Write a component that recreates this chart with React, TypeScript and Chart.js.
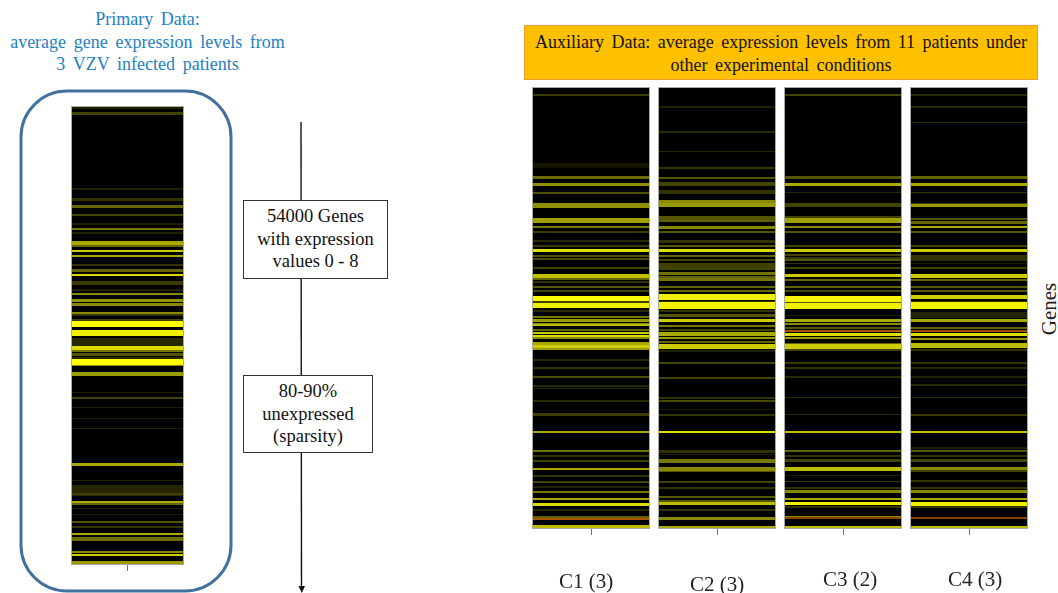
import React, { useEffect, useRef } from "react";
import { Chart, registerables } from "chart.js";

Chart.register(...registerables);

// Each band is [gene row (centre), rows covered, expression level 0-8].
const primaryBands = [
  [6,5,1],[23,5,2.1],[250,4,1],[280,6,1.6],[301,6,3.2],[326,4,2.1],[353,4,1],[368,4,3.7],[380,3,1],
  [411,8,5.3],[420,6,3.2],[435,5,6.4],[451,4,5.3],[478,3,1.6],[493,6,3.2],[507,6,6.9],[530,10,1.8],
  [553,4,1],[563,4,4.3],[584,6,4.6],[596,7,4.2],[620,4,4.3],[628,4,1.6],[641,4,2.1],[654,14,8],[676,8,7.5],
  [681,14,7.5],[708,20,1.3],[726,8,6.9],[735,3,3.7],[745,8,2.7],[755,3,1.3],[768,14,8],[778,4,4.3],
  [803,10,4.8],[859,2,1],[877,3,2.1],[905,2,1],[938,2,1],[967,2,1],[1075,5,5.3],[1123,2,1],
  [1153,30,1.2],[1163,4,2.1],[1188,5,5.3],[1195,4,3.2],[1208,2,1],[1226,2,1],[1248,4,2.7],[1263,2,1.6],
  [1285,4,5.3],[1298,10,3.4],[1338,5,4.3],[1348,4,6.4],[1370,6,4.8],
];
const c1Bands = [
  [24,3,1.8],[236,14,0.7],[272,6,3.4],[292,6,4.5],[317,4,2.5],[355,12,4.5],[401,14,5],[420,5,3.9],[436,3,1.8],
  [463,4,1.3],[476,4,1.8],[490,8,7],[506,3,2.5],[516,6,2.3],[543,3,2.1],[566,10,6],[576,5,3.2],[586,4,1.6],
  [600,4,2.7],[613,3,2.1],[635,14,7.8],[646,6,2.1],[656,14,7.5],[672,3,1.3],[691,3,3.7],[701,6,4.8],[710,3,4.3],
  [715,3,5.9],[728,4,3.2],[738,4,6.4],[746,3,6.9],[754,3,4.3],[770,6,5.3],[778,6,6.4],[786,3,4.8],[820,3,1.3],
  [844,3,1.6],[870,6,2.3],[896,4,1.3],[904,2,1.3],[943,3,1.3],[982,5,1.9],[1035,5,5.3],[1091,4,3.5],[1108,3,1.6],
  [1121,4,2.1],[1146,6,5.3],[1166,3,1.6],[1186,3,2.1],[1200,2,1.1],[1214,4,3.7],[1236,5,5.3],[1252,8,6.9],
  [1268,3,1.3],[1292,8,3],[1320,10,5.9],
];
const c2Bands = [
  [60,2,1],[135,2,1.3],[194,2,1.3],[242,3,1.6],[273,6,2.7],[291,8,2.1],[311,4,1.5],[318,4,1.6],[344,6,4.3],
  [355,10,4.8],[393,8,2.7],[402,4,3],[421,5,4.3],[436,3,2.7],[463,6,1.6],[476,4,2.8],[490,7,6.9],[508,3,3.2],
  [518,3,2.1],[536,16,2],[546,3,2.1],[560,8,3.6],[570,6,3],[578,8,3.6],[600,4,3.2],[613,4,3.2],[630,16,7.5],[646,6,1.6],[655,18,7.6],
  [673,3,1.6],[686,6,2.7],[700,7,6.4],[716,4,3.7],[728,4,2.1],[741,7,5.3],[753,4,4.8],[766,3,3.2],[778,14,6.4],
  [793,4,1],[828,3,2.1],[872,3,2.1],[932,3,1.6],[943,4,2.3],[968,2,1],[984,4,1.6],[1035,4,6.9],[1093,5,1.5],
  [1103,2,1],[1121,10,3.7],[1146,8,4.3],[1153,4,2.7],[1184,4,2.1],[1203,3,1.6],[1230,3,2.7],[1243,3,2.7],
  [1250,8,5.9],[1268,3,1.6],[1294,8,4.3],[1320,5,5.3],
];
const c3Bands = [
  [24,3,2.1],[272,6,2.7],[292,6,5.3],[317,2,1.3],[354,10,2.1],[390,6,2.1],[401,12,5],[420,4,4.3],[436,3,2.7],
  [476,3,2.1],[490,7,6.4],[503,3,2.1],[513,4,1.8],[520,3,2.7],[530,2,1.6],[543,3,2.1],[566,8,6.4],[578,4,3.2],
  [600,5,3.2],[613,3,2.1],[635,16,7.7],[646,4,2.7],[656,16,7.5],[686,2,1],[700,7,5.3],[710,3,4.3],[722,4,2.7],
  [743,8,6.9],[754,4,4.8],[770,3,3.2],[778,12,6.4],[790,3,2.1],[828,2,1.8],[843,2,1.6],[870,2,1.3],[932,2,1.3],
  [982,2,1.3],[1035,4,5.9],[1091,4,3.2],[1106,3,1.6],[1121,6,2.1],[1146,7,5.9],[1166,2,1],[1183,2,1.6],[1203,2,1.6],
  [1214,5,4.3],[1236,5,5.3],[1250,8,7.5],[1260,3,1.6],[1291,8,4.3],[1320,5,5.9],
];
const c4Bands = [
  [24,2,1.3],[60,2,1.3],[107,2,1.3],[272,6,3.2],[292,6,5.3],[317,2,1.6],[350,4,2.1],[356,5,4.8],[396,6,2.7],
  [406,6,3.2],[420,5,5.3],[436,3,2.7],[476,3,2.1],[490,6,6.4],[506,3,1.6],[516,8,1.6],[530,2,1],[543,3,2.1],
  [566,9,6.4],[578,4,3.2],[600,5,2.7],[613,3,2.7],[630,12,6.4],[646,4,1.6],[655,18,7.6],[685,16,1.1],[700,7,5.3],
  [722,4,3.2],[743,8,6.9],[756,3,4.8],[776,12,5.9],[790,3,1.6],[828,2,1.6],[843,2,1.3],[870,2,1],[894,4,1.3],
  [932,2,1.3],[985,4,1.8],[1035,4,5.9],[1083,2,1],[1091,4,2.7],[1106,3,1.6],[1121,5,2.1],[1144,6,4.3],[1153,4,2.1],
  [1183,3,1.6],[1203,2,1.6],[1214,5,4.3],[1236,5,5.3],[1250,10,7.5],[1260,2,1.6],[1293,6,4.3],[1320,5,5.9],
];

// Rows whose colour runs past yellow into orange.
const c1Peaks = [[1296,3,5]];
const c2Peaks: number[][] = [];
const c3Peaks = [[733,3,5],[1293,2,4]];
const c4Peaks = [[733,4,4.5],[1293,2,4]];

const auxiliaryRows = 1326;
const primaryRows = 1377;
const conditionLabels = ["C1 (3)", "C2 (3)", "C3 (2)", "C4 (3)"];

const yellow = (level: number) => {
  const v = Math.round((level / 8) * 255);
  return `rgb(${v},${v},0)`;
};
const orange = (level: number) =>
  `rgb(${Math.round(level * 34)},${Math.round(level * 17)},0)`;

const framePlugin = {
  id: "panelFrame",
  beforeDatasetsDraw(chart: Chart) {
    const { ctx, chartArea: a } = chart;
    ctx.save();
    ctx.fillStyle = "#000";
    ctx.fillRect(a.left, a.top, a.right - a.left, a.bottom - a.top);
    ctx.restore();
  },
  afterDatasetsDraw(chart: Chart) {
    const { ctx, chartArea: a } = chart;
    ctx.save();
    ctx.strokeStyle = "#a8a8a8";
    ctx.lineWidth = 1;
    ctx.strokeRect(a.left + 0.5, a.top + 0.5, a.right - a.left - 1, a.bottom - a.top - 1);
    ctx.restore();
  },
};

type PanelProps = {
  label: string;
  bands: number[][];
  peaks: number[][];
  rows: number;
  left: number;
  top: number;
  width: number;
  plotHeight: number;
  axisHeight: number;
  labelPadding: number;
  labelOffset: number;
};

// A row is a third of a pixel here, so ranges are snapped outward to whole pixels.
const rowRange = (b: number[]) => {
  const from = Math.floor((b[0] - b[1] / 2) / 3) * 3;
  const to = Math.max(from + 3, Math.ceil((b[0] + b[1] / 2) / 3) * 3);
  return [from, to];
};

function HeatPanel(p: PanelProps) {
  const ref = useRef<HTMLCanvasElement>(null);
  useEffect(() => {
    if (!ref.current) return;
    const toDataset = (colour: (n: number) => string) => (b: number[]) => ({
      data: [rowRange(b)],
      backgroundColor: colour(b[2]),
      grouped: false,
      categoryPercentage: 1,
      barPercentage: 1,
      inflateAmount: 0,
      borderWidth: 0,
    });
    // Chart.js paints earlier datasets on top, so peaks and bright rows come first.
    const ordered = [...p.bands].sort((a, b) => b[2] - a[2]);
    const chart = new Chart(ref.current, {
      type: "bar",
      data: {
        labels: [p.label],
        datasets: [...p.peaks.map(toDataset(orange)), ...ordered.map(toDataset(yellow))] as any,
      },
      options: {
        animation: false,
        responsive: false,
        layout: { padding: 0 },
        plugins: { legend: { display: false }, tooltip: { enabled: false }, title: { display: false } },
        scales: {
          x: {
            grid: { display: true, offset: false, drawOnChartArea: false, tickLength: 6, tickColor: "#777", tickWidth: 1 },
            border: { display: false },
            afterFit: (s: any) => {
              s.height = p.axisHeight;
              s.paddingLeft = 0;
              s.paddingRight = 0;
            },
            ticks: {
              color: "#222",
              maxRotation: 0,
              autoSkip: false,
              padding: p.labelPadding,
              labelOffset: p.labelOffset,
              font: { family: "'Liberation Serif'", size: 21 },
            },
          },
          y: { type: "linear", display: false, reverse: true, min: 0, max: p.rows },
        },
      } as any,
      plugins: [framePlugin] as any,
    });
    return () => chart.destroy();
  }, []);
  return (
    <canvas
      ref={ref}
      width={p.width}
      height={p.plotHeight + p.axisHeight}
      style={{ position: "absolute", left: p.left, top: p.top, filter: "blur(0.6px)" }}
    />
  );
}

const serif = "'Liberation Serif', serif";

function Note(props: {
  left: number; top: number; width: number; height?: number; lines: string[]; size?: number;
  color?: string; spacing?: number; lineHeight?: number; style?: React.CSSProperties;
}) {
  return (
    <div
      style={{
        position: "absolute",
        left: props.left,
        top: props.top,
        width: props.width,
        height: props.height,
        boxSizing: "border-box",
        fontFamily: serif,
        fontSize: props.size ?? 18,
        lineHeight: `${props.lineHeight ?? 22.5}px`,
        color: props.color ?? "#111",
        wordSpacing: props.spacing ?? 0,
        textAlign: "center",
        whiteSpace: "nowrap",
        ...props.style,
      }}
    >
      {props.lines.map((l) => <div key={l}>{l}</div>)}
    </div>
  );
}

export default function App() {
  const boxStyle: React.CSSProperties = { background: "#fff", border: "1px solid #333", paddingTop: 4 };
  const auxLefts = [532, 658, 784, 910];
  const auxOffsets = [-5, 0, 7, 6];
  const auxPaddings = [35, 38, 33, 33];
  const auxBands = [c1Bands, c2Bands, c3Bands, c4Bands];
  const auxPeaks = [c1Peaks, c2Peaks, c3Peaks, c4Peaks];
  return (
    <div style={{ position: "absolute", left: 0, top: 0, width: 1058, height: 593, overflow: "hidden", background: "#fff" }}>
      <svg width={1058} height={593} style={{ position: "absolute", left: 0, top: 0 }}>
        <rect x={21} y={91} width={210} height={500} rx={46} ry={46} fill="none" stroke="#41719c" strokeWidth={3} />
        <line x1={301} y1={122} x2={301.5} y2={587} stroke="#111" strokeWidth={1.4} />
        <path d="M298.5 586 L305 586 L301.8 593 Z" fill="#111" />
      </svg>
      <Note left={0} top={8} width={295} lines={["Primary Data:", "average gene expression levels from", "3 VZV infected patients"]} color="#1f7fc6" spacing={3.2} />
      <Note left={243} top={200} width={145} height={79} size={18.5} lines={["54000 Genes", "with expression", "values 0 - 8"]} style={boxStyle} />
      <Note left={243} top={375} width={130} height={78} size={18.5} lines={["80-90%", "unexpressed", "(sparsity)"]} style={boxStyle} />
      <Note left={524} top={25} width={514} height={55} lines={["Auxiliary Data: average expression levels from 11 patients under", "other experimental conditions"]} spacing={3} style={{ background: "#ffc000", border: "1px solid #f29a2e", paddingTop: 5 }} />
      <Note left={1034} top={309} width={30} lines={["Genes"]} size={21} color="#222" style={{ transform: "rotate(-90deg)", transformOrigin: "center" }} />
      <HeatPanel label="" bands={primaryBands} peaks={[]} rows={primaryRows} left={71} top={106} width={113} plotHeight={459} axisHeight={8} labelPadding={0} labelOffset={0} />
      {conditionLabels.map((label, i) => (
        <HeatPanel key={label} label={label} bands={auxBands[i]} peaks={auxPeaks[i]} rows={auxiliaryRows} left={auxLefts[i]} top={87} width={118} plotHeight={442} axisHeight={64} labelPadding={auxPaddings[i]} labelOffset={auxOffsets[i]} />
      ))}
    </div>
  );
}
